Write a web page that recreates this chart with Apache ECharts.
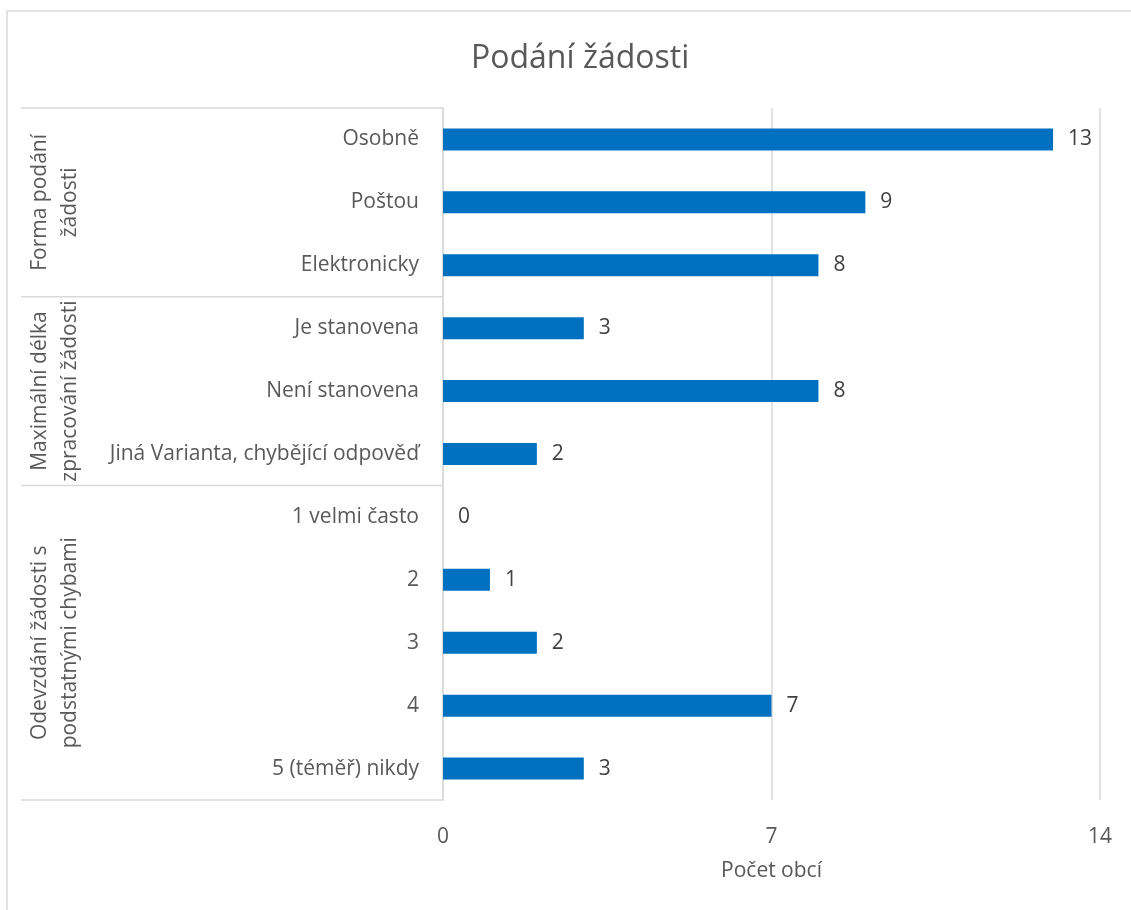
<!DOCTYPE html>
<html>
<head>
<meta charset="utf-8">
<script src="https://cdn.jsdelivr.net/npm/echarts@6/dist/echarts.min.js"></script>
<style>
  html, body { margin: 0; padding: 0; background: #fff; }
  #chart { width: 1131px; height: 910px; }
</style>
</head>
<body>
<div id="chart"></div>
<script>
var titleText = 'Podání žádosti';
var axisName = 'Počet obcí';

// categories, top to bottom
var categories = [
    'Osobně', 'Poštou', 'Elektronicky',
    'Je stanovena', 'Není stanovena', 'Jiná Varianta, chybějící odpověď',
    '1 velmi často', '2', '3', '4', '5 (téměř) nikdy'
];
var values = [13, 9, 8, 3, 8, 2, 0, 1, 2, 7, 3];

// outer group labels, with how many categories each covers
var groupNames = [
    'Forma podání\nžádosti',
    'Maximální délka\nzpracování žádosti',
    'Odevzdání žádosti s\npodstatnými chybami'
];
var groupSizes = [3, 3, 5];

var chart = echarts.init(document.getElementById('chart'));
var labelFont = '"Open Sans", "Noto Sans", sans-serif';
var lineColor = '#d9d9d9';
var fs = 21;

chart.setOption({
    backgroundColor: '#fff',
    animation: false,
    textStyle: { fontFamily: labelFont },
    title: {
        text: titleText,
        left: 466,
        top: 38,
        textStyle: { fontSize: 32, fontWeight: 'normal', color: '#595959', fontFamily: labelFont }
    },
    grid: { left: 443, right: 31, top: 108, bottom: 110 },
    xAxis: {
        type: 'value',
        min: 0,
        max: 14,
        interval: 7,
        name: axisName,
        nameLocation: 'middle',
        nameGap: 61,
        nameTextStyle: { fontSize: fs, color: '#595959' },
        axisLine: { show: false },
        axisTick: { show: false },
        axisLabel: { fontSize: fs, color: '#595959', margin: 27 },
        splitLine: { lineStyle: { color: lineColor, width: 1.5 } }
    },
    yAxis: {
        type: 'category',
        inverse: true,
        data: categories,
        axisLine: { lineStyle: { color: lineColor, width: 1.5 } },
        axisTick: { show: false },
        axisLabel: { fontSize: fs, color: '#595959', margin: 24 }
    },
    series: [{
        type: 'bar',
        data: values,
        barWidth: '35%',
        itemStyle: { color: '#0070c0' },
        label: {
            show: true,
            position: 'right',
            distance: 15,
            fontSize: fs,
            color: '#404040'
        }
    }]
});

// draw the group boxes and rotated group labels from the axis scale
function drawGroups() {
    var c0 = chart.convertToPixel({ yAxisIndex: 0 }, categories[0]);
    var c1 = chart.convertToPixel({ yAxisIndex: 0 }, categories[1]);
    var band = c1 - c0;
    var axisX = chart.convertToPixel({ xAxisIndex: 0 }, 0);
    var boxLeft = 21;
    var elements = [{
        type: 'rect',
        shape: { x: 7, y: 11, width: 1130, height: 910 },
        style: { fill: 'none', stroke: lineColor, lineWidth: 1.5 },
        silent: true
    }];
    var start = 0;
    var top = c0 - band / 2;
    elements.push({
        type: 'line',
        shape: { x1: boxLeft, y1: top, x2: axisX, y2: top },
        style: { stroke: lineColor, lineWidth: 1.5 }
    });
    for (var i = 0; i < groupSizes.length; i++) {
        var first = chart.convertToPixel({ yAxisIndex: 0 }, categories[start]);
        var last = chart.convertToPixel({ yAxisIndex: 0 }, categories[start + groupSizes[i] - 1]);
        var y0 = first - band / 2;
        var y1 = last + band / 2;
        elements.push({
            type: 'line',
            shape: { x1: boxLeft, y1: y1, x2: axisX, y2: y1 },
            style: { stroke: lineColor, lineWidth: 1.5 }
        });
        elements.push({
            type: 'text',
            x: 55,
            y: (y0 + y1) / 2,
            rotation: Math.PI / 2,
            style: {
                text: groupNames[i],
                font: fs + 'px ' + labelFont,
                fill: '#595959',
                align: 'center',
                verticalAlign: 'middle',
                lineHeight: 30
            }
        });
        start += groupSizes[i];
    }
    chart.setOption({ graphic: elements });
}
drawGroups();
</script>
</body>
</html>
